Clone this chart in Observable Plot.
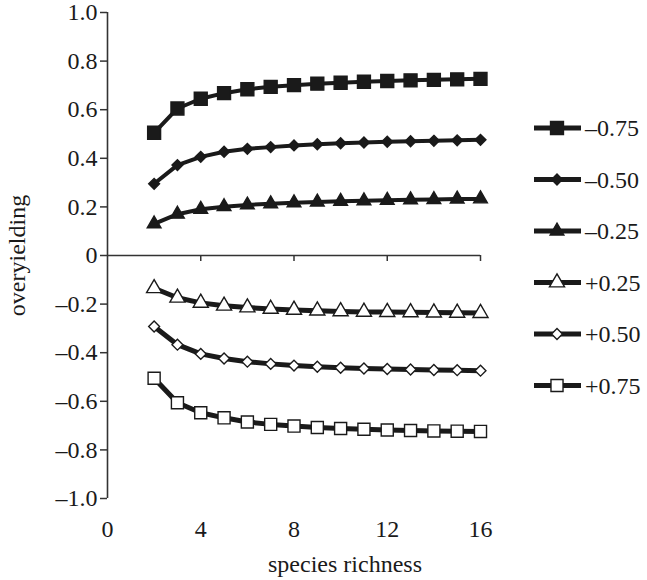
<!DOCTYPE html>
<html><head><meta charset="utf-8">
<script src="https://cdn.jsdelivr.net/npm/d3@7"></script>
<script src="https://cdn.jsdelivr.net/npm/@observablehq/plot@0.6"></script>
<style>body{margin:0;background:#fff} #chart{position:relative;width:647px;height:580px}</style>
</head><body><div id="chart"></div>
<script>
// ---- data ----
const richness = [2, 3, 4, 5, 6, 7, 8, 9, 10, 11, 12, 13, 14, 15, 16];
const seriesLabels = ["–0.75", "–0.50", "–0.25", "+0.25", "+0.50", "+0.75"];
const vMinus075 = [0.505, 0.605, 0.645, 0.668, 0.684, 0.694, 0.701, 0.707, 0.711, 0.715, 0.718, 0.721, 0.723, 0.725, 0.727];
const vMinus050 = [0.295, 0.372, 0.406, 0.427, 0.439, 0.446, 0.453, 0.458, 0.462, 0.465, 0.468, 0.470, 0.472, 0.474, 0.476];
const vMinus025 = [0.130, 0.170, 0.190, 0.201, 0.208, 0.213, 0.217, 0.220, 0.223, 0.225, 0.227, 0.229, 0.230, 0.232, 0.233];
const vPlus025 = [-0.135, -0.174, -0.195, -0.207, -0.214, -0.220, -0.224, -0.227, -0.230, -0.232, -0.233, -0.234, -0.235, -0.236, -0.237];
const vPlus050 = [-0.292, -0.367, -0.405, -0.424, -0.437, -0.446, -0.453, -0.458, -0.462, -0.465, -0.467, -0.469, -0.471, -0.472, -0.474];
const vPlus075 = [-0.505, -0.606, -0.647, -0.668, -0.685, -0.695, -0.702, -0.708, -0.712, -0.715, -0.718, -0.720, -0.722, -0.723, -0.724];
const xTicks = [0, 4, 8, 12, 16];
const yTicks = [-1.0, -0.8, -0.6, -0.4, -0.2, 0, 0.2, 0.4, 0.6, 0.8, 1.0];
const xLabel = "species richness";
const yLabel = "overyielding";

// ---- styling ----
const ink = "#1a1a1a";
const axisInk = "#333";
const fs = 24;
const font = "'Liberation Serif', 'Times New Roman', serif";
const valuesList = [vMinus075, vMinus050, vMinus025, vPlus025, vPlus050, vPlus075];
const symbolStyle = [
  {symbol: "square", r: 7.3, fill: ink, lw: 4},
  {symbol: "diamond2", r: 4.9, fill: ink, lw: 4},
  {symbol: "triangle", r: 5.1, fill: ink, lw: 4},
  {symbol: "triangle", r: 5.6, fill: "white", lw: 5},
  {symbol: "diamond2", r: 4.9, fill: "white", lw: 5},
  {symbol: "square", r: 6.8, fill: "white", lw: 5}
];
const series = seriesLabels.map((label, k) => ({
  label, ...symbolStyle[k],
  rows: richness.map((x, i) => ({x, y: valuesList[k][i], key: label}))
}));

const fmt = d => d === 0 ? "0" : (d < 0 ? "–" : "") + Math.abs(d).toFixed(1);

const lineMarks = series.map(s => Plot.line(s.rows, {x: "x", y: "y", stroke: ink, strokeWidth: s.lw}));
const dotMarks = series.map(s => Plot.dot(s.rows, {x: "x", y: "y", symbol: s.symbol, r: s.r, fill: s.fill, stroke: ink, strokeWidth: 1.4}));

const plot = Plot.plot({
  width: 647, height: 580,
  marginLeft: 107, marginRight: 167, marginTop: 12, marginBottom: 82,
  style: {fontFamily: font, fontSize: fs + "px", color: ink, background: "white"},
  x: {domain: [0, 16]},
  y: {domain: [-1, 1]},
  marks: [
    Plot.axisY(yTicks, {tickSize: 7, tickPadding: 3, tickFormat: fmt, label: null, fontSize: fs, stroke: axisInk, strokeWidth: 1.5}),
    Plot.axisX(xTicks, {tickSize: 0, tickPadding: 21, label: null, fontSize: fs}),
    Plot.ruleX([0], {stroke: axisInk, strokeWidth: 1.6}),
    Plot.ruleY([0], {stroke: axisInk, strokeWidth: 1.6}),
    Plot.ruleX(xTicks.filter(d => d > 0), {x: d => d, y1: () => 0, y2: () => 0, insetBottom: -6, stroke: axisInk, strokeWidth: 1.5}),
    ...lineMarks,
    ...dotMarks,
    Plot.text([xLabel], {frameAnchor: "bottom", textAnchor: "middle", dx: 51, dy: 73, fontSize: fs, fill: ink}),
    Plot.text([yLabel], {frameAnchor: "left", textAnchor: "middle", rotate: -90, dx: -90, fontSize: fs, fill: ink})
  ]
});

// ---- legend ----
const svg = d3.select(plot);
const g = svg.append("g").attr("font-family", font).attr("font-size", fs);
const symMap = {square: d3.symbolSquare, diamond2: d3.symbolDiamond2, triangle: d3.symbolTriangle};
series.forEach((s, i) => {
  const y = 128 + i * 51.5;
  g.append("line").attr("x1", 534).attr("x2", 581).attr("y1", y).attr("y2", y)
    .attr("stroke", ink).attr("stroke-width", 5);
  g.append("path").attr("transform", `translate(557,${y})`)
    .attr("d", d3.symbol(symMap[s.symbol], s.r * s.r * Math.PI)())
    .attr("fill", s.fill).attr("stroke", ink).attr("stroke-width", 1.4);
  g.append("text").attr("x", 585).attr("y", y).attr("dy", "0.35em")
    .attr("text-anchor", "start").attr("fill", ink).text(s.label);
});

document.getElementById("chart").appendChild(plot);
</script>
</body></html>
